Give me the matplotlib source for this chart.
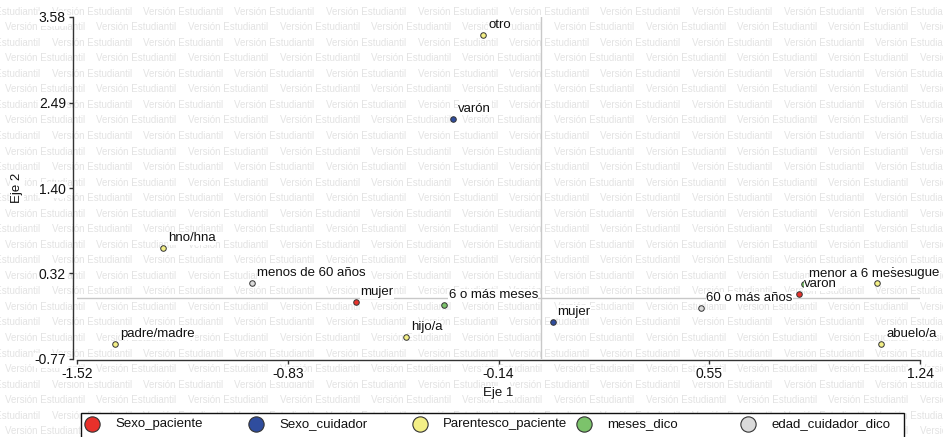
import matplotlib
matplotlib.use("Agg")
import matplotlib.pyplot as plt
from matplotlib.lines import Line2D
from matplotlib.patches import Rectangle

plt.rcParams['font.family'] = ['Liberation Sans', 'DejaVu Sans']

W, H = 943, 437

# variables, in legend order
groups = ["Sexo_paciente", "Sexo_cuidador", "Parentesco_paciente", "meses_dico", "edad_cuidador_dico"]
group_colors = ["#e8312b", "#2f4d9e", "#f3ef86", "#7cc36b", "#dadada"]

# categories and their coordinates (Eje 1, Eje 2)
sexo_pac_labels = ["mujer", "varón"]
sexo_pac_x = [-0.608, 0.845]
sexo_pac_y = [-0.049, 0.053]

sexo_cuid_labels = ["varón", "mujer"]
sexo_cuid_x = [-0.288, 0.037]
sexo_cuid_y = [2.287, -0.297]

parent_labels = ["otro", "hno/hna", "padre/madre", "hijo/a", "cónyugue", "abuelo/a"]
parent_x = [-0.190, -1.238, -1.395, -0.443, 1.100, 1.113]
parent_y = [3.355, 0.638, -0.579, -0.490, 0.201, -0.579]

meses_labels = ["6 o más meses", "menor a 6 meses"]
meses_x = [-0.320, 0.860]
meses_y = [-0.083, 0.184]

edad_labels = ["menos de 60 años", "60 o más años"]
edad_x = [-0.946, 0.523]
edad_y = [0.201, -0.121]

xticks = [-1.52, -0.83, -0.14, 0.55, 1.24]
yticks = [-0.77, 0.32, 1.40, 2.49, 3.58]

series = [
    (sexo_pac_labels, sexo_pac_x, sexo_pac_y),
    (sexo_cuid_labels, sexo_cuid_x, sexo_cuid_y),
    (parent_labels, parent_x, parent_y),
    (meses_labels, meses_x, meses_y),
    (edad_labels, edad_x, edad_y),
]

fig = plt.figure(figsize=(W / 100, H / 100), dpi=100)

# student-version watermark behind everything
wm = "Versión Estudiantil"
for k in range(30):
    y = 11.7 + 15.54 * k
    x0 = -40 if k % 2 == 0 else 5
    for j in range(12):
        fig.text((x0 + 91.5 * j) / W, 1 - y / H, wm, fontsize=7, color="#e3e3e3",
                 ha="left", va="center", zorder=-10)

ax = fig.add_axes([77 / W, 1 - 359 / H, 843 / W, 342 / H])
ax.patch.set_alpha(0)
ax.set_xlim(xticks[0], xticks[-1])
ax.set_ylim(yticks[0], yticks[-1])

ax.axhline(0, color="#c8c8c8", lw=1, zorder=1)
ax.axvline(0, color="#c8c8c8", lw=1, zorder=1)

for (labels, xs, ys), col in zip(series, group_colors):
    ax.scatter(xs, ys, s=16, color=col, edgecolors="#333333", linewidths=0.7, zorder=3)

for (labels, xs, ys), col in zip(series, group_colors):
    for lab, x, y in zip(labels, xs, ys):
        ax.annotate(lab, (x, y), xytext=(5, 10), textcoords="offset pixels",
                    ha="left", va="center", fontsize=9.5, color="#111111",
                    bbox=dict(fc="white", ec="none", pad=0.3), zorder=4,
                    annotation_clip=False)

for s in ["top", "right"]:
    ax.spines[s].set_visible(False)
ax.spines["left"].set_position(("outward", 3))
ax.spines["bottom"].set_position(("outward", 1))
for s in ["left", "bottom"]:
    ax.spines[s].set_color("#333333")
    ax.spines[s].set_linewidth(1)

ax.set_xticks(xticks)
ax.set_xticklabels([f"{v:.2f}" for v in xticks])
ax.set_yticks(yticks)
ax.set_yticklabels([f"{v:.2f}" for v in yticks])
ax.tick_params(direction="out", length=3, width=1, color="#333333",
               labelsize=10, labelcolor="#111111", pad=2)
for lbl in ax.get_xticklabels() + ax.get_yticklabels():
    lbl.set_bbox(dict(fc="white", ec="none", pad=0.5))

ax.set_xlabel("Eje 1", fontsize=9.5, color="#111111")
ax.set_ylabel("Eje 2", fontsize=9.5, color="#111111")
ax.xaxis.set_label_coords(0.5, (359 - 393) / 342)
ax.yaxis.set_label_coords((17 - 77) / 843, 0.5)
ax.xaxis.label.set_va("center")
ax.yaxis.label.set_va("center")
ax.xaxis.label.set_bbox(dict(fc="white", ec="none", pad=0.5))
ax.yaxis.label.set_bbox(dict(fc="white", ec="none", pad=0.5))

# legend box along the bottom edge
fig.add_artist(Rectangle((81 / W, -0.05), (904 - 81) / W, 0.05 + 1 - 413 / H,
                         transform=fig.transFigure, fc="white", ec="#111111",
                         lw=1, zorder=5))
ly = 1 - 424 / H
for i, (name, col) in enumerate(zip(groups, group_colors)):
    mx = 92 + 164 * i
    fig.add_artist(Line2D([mx / W], [ly], transform=fig.transFigure, marker="o",
                          markersize=11, color=col, mec="#333333", mew=0.8,
                          linestyle="none", zorder=6))
    fig.text((mx + 23) / W, ly, name, fontsize=9.5, color="#111111",
             ha="left", va="center", zorder=6)

fig.savefig("out.png", dpi=100)
